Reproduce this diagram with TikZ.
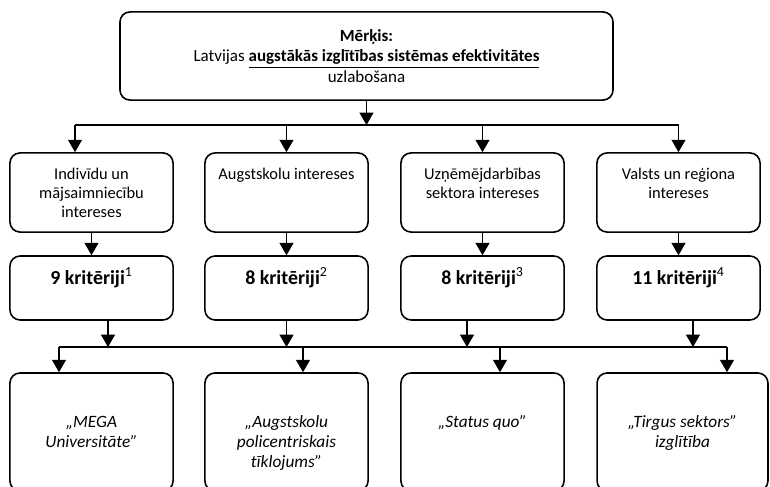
\documentclass[tikz,border=0pt]{standalone}
\usepackage{fontspec}
\setmainfont[Ligatures=NoCommon]{Carlito}
\usetikzlibrary{arrows.meta}
\tikzset{
  block/.style={draw, line width=1.1pt, rounded corners=7pt, inner sep=0pt,
    minimum width=3.98cm, align=center},
  interest/.style={block, minimum height=1.93cm, font=\fontsize{11.4}{13.2}\selectfont},
  criteria/.style={block, minimum height=1.56cm, font=\fontsize{13.8}{16}\selectfont\bfseries},
  scenario/.style={block, minimum height=2.88cm, font=\fontsize{12}{14}\selectfont\itshape},
  bus/.style={line width=0.7pt},
  link/.style={bus, -{Triangle[length=0.3cm, width=0.34cm]}}
}
\newcommand{\toptext}[2]{\parbox[c][#1][t]{3.8cm}{\centering\strut #2}}

\begin{document}
\begin{tikzpicture}[x=0.0244cm, y=-0.0244cm]
\useasboundingbox (0,0) rectangle (770,487);
% goal
\node[block, minimum width=12.03cm, minimum height=2.15cm,
  font=\fontsize{11.8}{14.5}\selectfont] (goal) at (366.5,56)
  {\textbf{Mērķis:}\\Latvijas \underline{\textbf{augstākās izglītības sistēmas efektivitātes}}\\uzlabošana};
% interests
\node[interest] (int1) at (91.5,192.5) {\toptext{1.3cm}{Indivīdu un\\mājsaimniecību\\intereses}};
\node[interest] (int2) at (286.5,192.5) {\toptext{1.3cm}{Augstskolu intereses}};
\node[interest] (int3) at (482.5,192.5) {\toptext{1.3cm}{Uzņēmējdarbības\\sektora intereses}};
\node[interest] (int4) at (678.5,192.5) {\toptext{1.3cm}{Valsts un reģiona\\intereses}};
% criteria
\node[criteria] (crit1) at (91.5,288) {\toptext{0.99cm}{9 kritēriji\textsuperscript{\normalfont 1}}};
\node[criteria] (crit2) at (286.5,288) {\toptext{0.99cm}{8 kritēriji\textsuperscript{\normalfont 2}}};
\node[criteria] (crit3) at (482.5,288) {\toptext{0.99cm}{8 kritēriji\textsuperscript{\normalfont 3}}};
\node[criteria] (crit4) at (678.5,288) {\toptext{0.99cm}{11 kritēriji\textsuperscript{\normalfont 4}}};
% scenarios
\node[scenario] (scen1) at (91.5,432) {\toptext{0.92cm}{„MEGA\\Universitāte”}};
\node[scenario] (scen2) at (286.5,432) {\toptext{0.92cm}{„Augstskolu\\policentriskais\\tīklojums”}};
\node[scenario] (scen3) at (482.5,432) {\toptext{0.92cm}{„Status quo”}};
\node[scenario, minimum width=4.17cm] (scen4) at (682.5,432) {\toptext{0.92cm}{„Tirgus sektors”\\izglītība}};
% upper bus
\coordinate (j1) at (75,125);
\coordinate (j2) at (286.5,125);
\coordinate (j3) at (482.5,125);
\coordinate (j4) at (678.5,125);
\draw[link] (goal.south) -- (goal.south |- j1);
\draw[bus] (j1) -- (j4);
\foreach \i in {1,...,4} {
  \draw[link] (j\i) -- (j\i |- int\i.north);
  \draw[link] (int\i) -- (crit\i);
}
% lower bus
\coordinate (k1) at (108,347);
\coordinate (k2) at (286.5,347);
\coordinate (k3) at (467,347);
\coordinate (k4) at (693,347);
\coordinate (m1) at (59,347);
\coordinate (m2) at (303,347);
\coordinate (m3) at (500,347);
\coordinate (m4) at (727,347);
\draw[bus] (m1) -- (m4);
\foreach \i in {1,...,4} {
  \draw[link] (crit\i.south -| k\i) -- (k\i);
  \draw[link] (m\i) -- (m\i |- scen\i.north);
}
\end{tikzpicture}
\end{document}
